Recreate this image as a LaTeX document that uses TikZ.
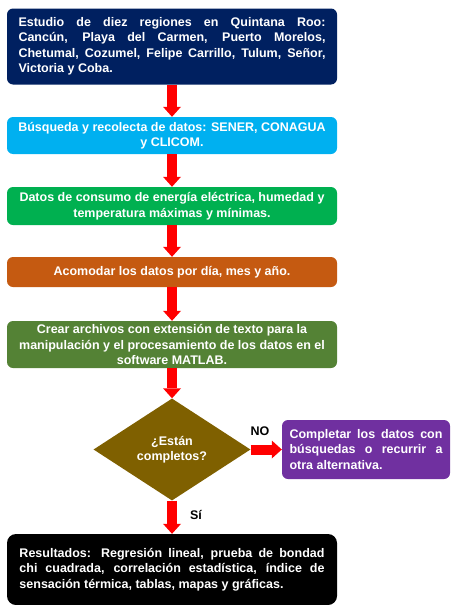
\documentclass[tikz,border=0pt]{standalone}
\usepackage{fontspec}
\setmainfont{Liberation Sans}
\usetikzlibrary{arrows.meta,shapes.geometric}
\definecolor{cnavy}{HTML}{002060}
\definecolor{ccyan}{HTML}{00B0F0}
\definecolor{cgreen}{HTML}{00B050}
\definecolor{corange}{HTML}{C55A11}
\definecolor{colive}{HTML}{548235}
\definecolor{cbrown}{HTML}{7F6000}
\definecolor{cpurple}{HTML}{7030A0}
\newcommand{\jline}[2]{\makebox[#1][s]{#2}}
\tikzset{
  box/.style={rounded corners=6pt, text=white, font=\fontsize{12.5}{15.5}\selectfont\bfseries,
    minimum width=330pt, align=center, inner sep=0pt},
  redarrow/.style={draw=red, line width=10pt,
    -{Triangle[width=18pt,length=10pt,line width=0pt,fill=red]}},
  lbl/.style={font=\fontsize{12.5}{15}\selectfont\bfseries, text=black, inner sep=0pt}
}
\begin{document}
\begin{tikzpicture}[x=1pt,y=-1pt]
\useasboundingbox (0,0) rectangle (450,605);
\node[box, fill=cnavy, minimum height=76pt, align=left] (b1) at (172,46.5)
  {\jline{307pt}{Estudio de diez regiones en Quintana Roo:}\\
   \jline{307pt}{Cancún, Playa del Carmen, Puerto Morelos,}\\
   \jline{307pt}{Chetumal, Cozumel, Felipe Carrillo, Tulum, Señor,}\\
   Victoria y Coba.};
\node[box, fill=ccyan, minimum height=37pt] (b2) at (172,135.5)
  {Búsqueda y recolecta de datos: SENER, CONAGUA\\ y CLICOM.};
\node[box, fill=cgreen, minimum height=38pt] (b3) at (172,206)
  {Datos de consumo de energía eléctrica, humedad y\\ temperatura máximas y mínimas.};
\node[box, fill=corange, minimum height=30pt] (b4) at (172,272)
  {Acomodar los datos por día, mes y año.};
\node[box, fill=colive, minimum height=47pt] (b5) at (172,344.5)
  {Crear archivos con extensión de texto para la\\ manipulación y el procesamiento de los datos en el\\ software MATLAB.};
\node[diamond, fill=cbrown, text=white, font=\fontsize{12.5}{15.5}\selectfont\bfseries,
  minimum width=157pt, minimum height=102pt, aspect=1.55, inner sep=0pt, align=center] (dia) at (172,449.5)
  {¿Están\\ completos?};
\node[box, fill=cpurple, minimum width=168pt, minimum height=59pt, align=left] (p) at (366,449.5)
  {\jline{153pt}{Completar los datos con}\\
   \jline{153pt}{búsquedas o recurrir a}\\
   otra alternativa.};
\node[box, fill=black, rounded corners=9pt, minimum height=71pt, align=left] (b6) at (172,569.5)
  {\jline{305pt}{Resultados: Regresión lineal, prueba de bondad}\\
   \jline{305pt}{chi cuadrada, correlación estadística, índice de}\\
   sensación térmica, tablas, mapas y gráficas.};
\draw[redarrow] (b1.south) -- (b2.north);
\draw[redarrow] (b2.south) -- (b3.north);
\draw[redarrow] (b3.south) -- (b4.north);
\draw[redarrow] (b4.south) -- (b5.north);
\draw[redarrow] (b5.south) -- (dia.north);
\draw[redarrow] (dia.east) -- (p.west);
\draw[redarrow] (dia.south) -- (b6.north);
\node[lbl] (no) at (260,431) {NO};
\node[lbl] (si) at (196,515) {Sí};
\end{tikzpicture}
\end{document}
